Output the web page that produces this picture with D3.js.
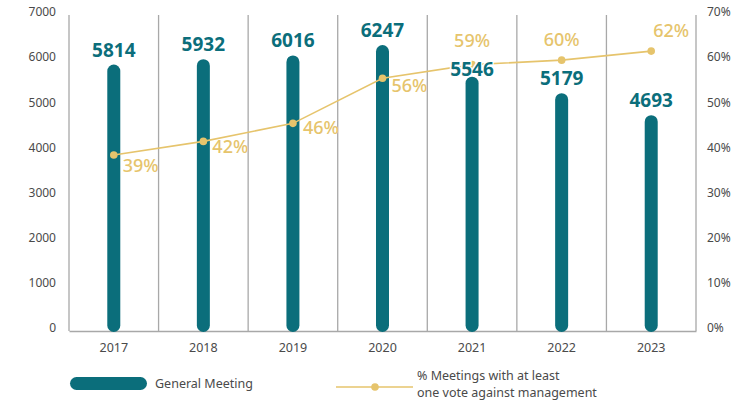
<!DOCTYPE html>
<html>
<head>
<meta charset="utf-8">
<script src="https://cdn.jsdelivr.net/npm/d3@7"></script>
<style>
  body { margin: 0; background: #fff; }
  svg { display: block; font-family: "Noto Sans", sans-serif; }
</style>
</head>
<body>
<svg id="chart" width="749" height="401"></svg>
<script>
//* Data
const years = ["2017", "2018", "2019", "2020", "2021", "2022", "2023"];
const generalMeetings = [5814, 5932, 6016, 6247, 5546, 5179, 4693];
const pctAgainst = [39, 42, 46, 56, 59, 60, 62];
const leftTicks = [0, 1000, 2000, 3000, 4000, 5000, 6000, 7000];
const rightTicks = [0, 10, 20, 30, 40, 50, 60, 70];

//* Label placement around the line points (dx, dy, anchor)
const pctLabelPlace = [
  [9, 17, "start"], [9, 12, "start"], [10, 11, "start"], [9, 14, "start"],
  [0, -18, "middle"], [0, -14, "middle"], [2, -14, "start"]
];
// gap between bar top and its value label
const barLabelGap = [8, 8, 8, 8, 1, 8, 8];

const teal = "#0b6e7b";
const gold = "#e6c46c";
const axisGrey = "#a8a8a8";
const textGrey = "#4a4a4a";

//* Chart area
const margin = { top: 15, right: 53, bottom: 70, left: 69 };
const width = 749, height = 401;
const plotBottom = height - margin.bottom;

const svg = d3.select("#chart");

const x = d3.scaleBand()
  .domain(years)
  .range([margin.left, width - margin.right])
  .padding(0);

const yLeft = d3.scaleLinear()
  .domain([0, 7000])
  .range([plotBottom, margin.top]);

const yRight = d3.scaleLinear()
  .domain([0, 70])
  .range([plotBottom, margin.top]);

// vertical separators between categories
const bounds = years.map(d => x(d)).concat([x(years[years.length - 1]) + x.bandwidth()]);
svg.append("g")
  .selectAll("line")
  .data(bounds)
  .enter()
  .append("line")
  .attr("x1", d => d)
  .attr("x2", d => d)
  .attr("y1", margin.top)
  .attr("y2", plotBottom)
  .attr("stroke", axisGrey)
  .attr("stroke-width", 1.3);

// bottom axis
const xAxis = svg.append("g")
  .attr("transform", `translate(0, ${plotBottom})`)
  .call(d3.axisBottom(x).tickSize(0).tickPadding(12));
xAxis.select(".domain").attr("stroke", axisGrey).attr("stroke-width", 1.5);
xAxis.selectAll("text")
  .attr("font-size", "12.5px")
  .attr("fill", textGrey)
  .attr("font-family", "Noto Sans");

// left axis
const leftAxis = svg.append("g")
  .attr("transform", `translate(${margin.left - 13}, 0)`)
  .call(d3.axisLeft(yLeft).tickValues(leftTicks).tickSize(0).tickPadding(0).tickFormat(d3.format("d")));
leftAxis.select(".domain").remove();
leftAxis.selectAll("text")
  .attr("y", -3)
  .attr("font-size", "12px")
  .attr("fill", textGrey)
  .attr("font-family", "Noto Sans");

// right axis
const rightAxis = svg.append("g")
  .attr("transform", `translate(${width - margin.right + 11}, 0)`)
  .call(d3.axisRight(yRight).tickValues(rightTicks).tickSize(0).tickPadding(0).tickFormat(d => d + "%"));
rightAxis.select(".domain").remove();
rightAxis.selectAll("text")
  .attr("y", -3)
  .attr("font-size", "12px")
  .attr("fill", textGrey)
  .attr("font-family", "Noto Sans");

//* Bars (rounded pillars)
const barW = 13;
const bars = years.map((d, i) => ({ year: d, value: generalMeetings[i], pct: pctAgainst[i] }));

svg.append("g")
  .selectAll(".bar")
  .data(bars)
  .enter()
  .append("rect")
  .attr("class", "bar")
  .attr("x", d => x(d.year) + x.bandwidth() / 2 - barW / 2)
  .attr("y", d => yLeft(d.value) - 4)
  .attr("width", barW)
  .attr("height", d => plotBottom + 1 - (yLeft(d.value) - 4))
  .attr("rx", barW / 2)
  .attr("fill", teal);

//* Line
const line = d3.line()
  .x(d => x(d.year) + x.bandwidth() / 2)
  .y(d => yRight(d.pct));

svg.append("path")
  .datum(bars)
  .attr("d", line)
  .attr("fill", "none")
  .attr("stroke", gold)
  .attr("stroke-width", 1.6);

svg.append("g")
  .selectAll("circle")
  .data(bars)
  .enter()
  .append("circle")
  .attr("cx", d => x(d.year) + x.bandwidth() / 2)
  .attr("cy", d => yRight(d.pct))
  .attr("r", 3.8)
  .attr("fill", gold);

// bar value labels, drawn over the line with a thin white halo
svg.append("g")
  .selectAll(".label")
  .data(bars)
  .enter()
  .append("text")
  .attr("class", "label")
  .attr("x", d => x(d.year) + x.bandwidth() / 2)
  .attr("y", (d, i) => yLeft(d.value) - 4 - barLabelGap[i])
  .attr("text-anchor", "middle")
  .attr("font-size", "19px")
  .attr("font-weight", "bold")
  .attr("fill", teal)
  .attr("stroke", "#fff")
  .attr("stroke-width", 3)
  .attr("paint-order", "stroke")
  .text(d => d.value);

svg.append("g")
  .selectAll(".pct")
  .data(bars)
  .enter()
  .append("text")
  .attr("class", "pct")
  .attr("x", (d, i) => x(d.year) + x.bandwidth() / 2 + pctLabelPlace[i][0])
  .attr("y", (d, i) => yRight(d.pct) + pctLabelPlace[i][1])
  .attr("text-anchor", (d, i) => pctLabelPlace[i][2])
  .attr("font-size", "18px")
  .attr("font-weight", 500)
  .attr("fill", gold)
  .text(d => d.pct + "%");

//* Legend
const legend = svg.append("g");
legend.append("rect")
  .attr("x", 70).attr("y", 377)
  .attr("width", 77).attr("height", 13)
  .attr("rx", 6.5)
  .attr("fill", teal);
legend.append("text")
  .attr("x", 155).attr("y", 388)
  .attr("font-size", "12.5px")
  .attr("fill", textGrey)
  .text("General Meeting");

legend.append("line")
  .attr("x1", 336).attr("x2", 413)
  .attr("y1", 387).attr("y2", 387)
  .attr("stroke", gold).attr("stroke-width", 1.6);
legend.append("circle")
  .attr("cx", 375).attr("cy", 387).attr("r", 3.8)
  .attr("fill", gold);
legend.append("text")
  .attr("x", 417).attr("y", 380)
  .attr("font-size", "12.5px")
  .attr("fill", textGrey)
  .text("% Meetings with at least");
legend.append("text")
  .attr("x", 417).attr("y", 397)
  .attr("font-size", "12.5px")
  .attr("fill", textGrey)
  .text("one vote against management");
</script>
</body>
</html>
